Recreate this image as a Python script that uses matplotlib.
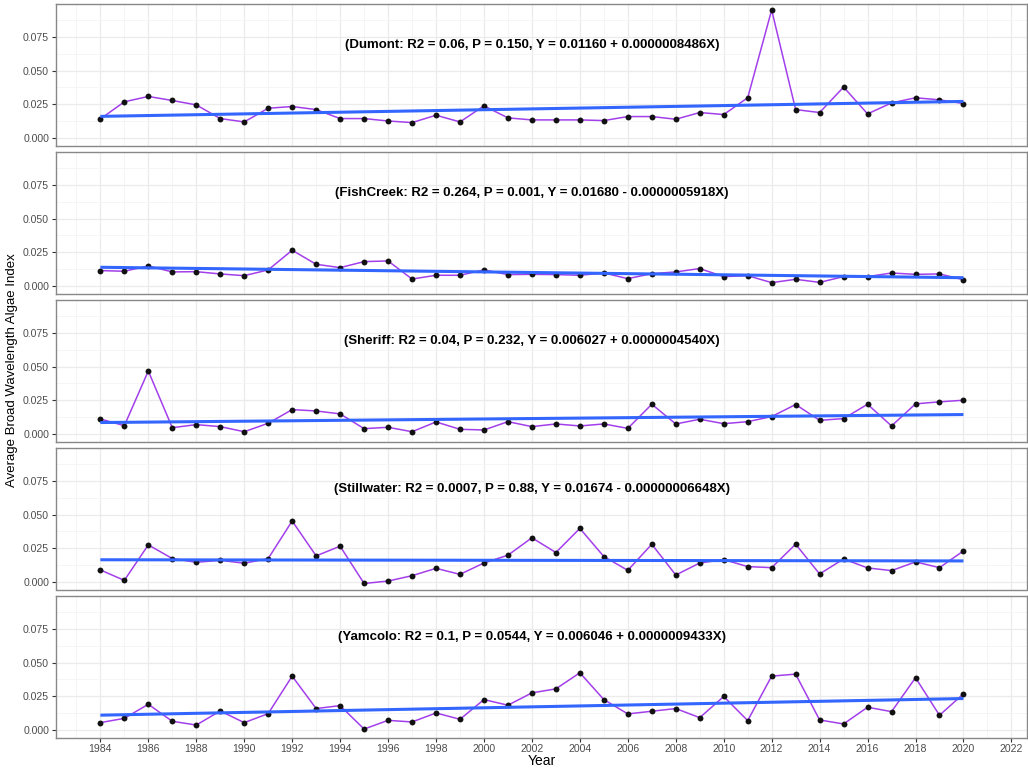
import numpy as np
import matplotlib
matplotlib.use("Agg")
import matplotlib.pyplot as plt

plt.rcParams['font.family'] = ['Liberation Sans', 'DejaVu Sans']

years = list(range(1984, 2021))

dumont = [0.0140, 0.0268, 0.0308, 0.0278, 0.0245, 0.0143, 0.0118, 0.0220, 0.0233, 0.0210,
          0.0143, 0.0143, 0.0125, 0.0113, 0.0168, 0.0118, 0.0238, 0.0148, 0.0133, 0.0133,
          0.0133, 0.0128, 0.0158, 0.0158, 0.0138, 0.0188, 0.0173, 0.0298, 0.0953, 0.0210,
          0.0188, 0.0378, 0.0178, 0.0260, 0.0298, 0.0283, 0.0255]
fishcreek = [0.0113, 0.0108, 0.0148, 0.0103, 0.0105, 0.0088, 0.0075, 0.0118, 0.0265, 0.0160,
             0.0135, 0.0180, 0.0185, 0.0050, 0.0078, 0.0078, 0.0118, 0.0083, 0.0085, 0.0083,
             0.0078, 0.0095, 0.0053, 0.0090, 0.0103, 0.0128, 0.0068, 0.0075, 0.0023, 0.0048,
             0.0025, 0.0068, 0.0068, 0.0095, 0.0085, 0.0088, 0.0045]
sheriff = [0.0110, 0.0060, 0.0468, 0.0045, 0.0068, 0.0053, 0.0015, 0.0078, 0.0180, 0.0170,
           0.0148, 0.0038, 0.0048, 0.0015, 0.0088, 0.0033, 0.0028, 0.0090, 0.0053, 0.0073,
           0.0058, 0.0073, 0.0040, 0.0220, 0.0073, 0.0108, 0.0075, 0.0090, 0.0128, 0.0218,
           0.0100, 0.0113, 0.0220, 0.0058, 0.0223, 0.0238, 0.0250]
stillwater = [0.0088, 0.0010, 0.0275, 0.0173, 0.0145, 0.0160, 0.0138, 0.0173, 0.0453, 0.0193,
              0.0265, -0.0013, 0.0005, 0.0045, 0.0100, 0.0055, 0.0140, 0.0198, 0.0328, 0.0218,
              0.0398, 0.0188, 0.0085, 0.0280, 0.0050, 0.0140, 0.0165, 0.0113, 0.0105, 0.0280,
              0.0058, 0.0170, 0.0103, 0.0083, 0.0148, 0.0105, 0.0230]
yamcolo = [0.0053, 0.0085, 0.0190, 0.0063, 0.0035, 0.0140, 0.0053, 0.0120, 0.0400, 0.0158,
           0.0180, 0.0005, 0.0070, 0.0058, 0.0125, 0.0078, 0.0225, 0.0183, 0.0275, 0.0305,
           0.0425, 0.0225, 0.0118, 0.0138, 0.0158, 0.0090, 0.0248, 0.0068, 0.0400, 0.0415,
           0.0073, 0.0043, 0.0168, 0.0135, 0.0388, 0.0108, 0.0268]

sites = ["Dumont", "FishCreek", "Sheriff", "Stillwater", "Yamcolo"]
series = [dumont, fishcreek, sheriff, stillwater, yamcolo]
r2 = ["0.06", "0.264", "0.04", "0.0007", "0.1"]
pval = ["0.150", "0.001", "0.232", "0.88", "0.0544"]
intercept = [0.01160, 0.01680, 0.006027, 0.01674, 0.006046]
slope = [0.0000008486, -0.0000005918, 0.0000004540, -0.00000006648, 0.0000009433]
intercept_txt = ["0.01160", "0.01680", "0.006027", "0.01674", "0.006046"]
slope_txt = ["+ 0.0000008486", "- 0.0000005918", "+ 0.0000004540",
             "- 0.00000006648", "+ 0.0000009433"]

W, H = 1028, 771
fig = plt.figure(figsize=(W / 100, H / 100), dpi=100)

left, right = 56, 1027
tops = [4, 152, 300, 448, 596]
ph = 141.5

# X in the fitted model is days since 1970-01-01
dates = np.array([f"{y}-01-01" for y in years], dtype='datetime64[D]')
days = (dates - np.datetime64('1970-01-01')).astype(float)

for i, (name, vals) in enumerate(zip(sites, series)):
    ax = fig.add_axes([left / W, 1 - (tops[i] + ph) / H, (right - left) / W, ph / H])
    ax.set_facecolor('white')
    ax.plot(years, vals, color='#A33FEA', lw=1.1, zorder=3)
    ax.scatter(years, vals, s=18, color='#111111', zorder=4, linewidths=0)
    fit = intercept[i] + slope[i] * days
    ax.plot(years, fit, color='#3366FF', lw=2.2, zorder=5, solid_capstyle='butt')
    ax.text(2002, 0.069,
            f"({name}: R2 = {r2[i]}, P = {pval[i]}, Y = {intercept_txt[i]} {slope_txt[i]}X)",
            ha='center', va='center', fontsize=9.5, fontweight='bold', zorder=6)

    ax.set_xlim(1982.15, 2022.65)
    ax.set_ylim(-0.0058, 0.0998)
    ax.set_xticks(range(1984, 2023, 2))
    ax.set_xticks(range(1983, 2023, 2), minor=True)
    ax.set_yticks([0, 0.025, 0.05, 0.075])
    ax.set_yticks([0.0125, 0.0375, 0.0625, 0.0875], minor=True)
    ax.set_yticklabels(["0.000", "0.025", "0.050", "0.075"])
    ax.grid(which='major', color='#EBEBEB', lw=0.9, zorder=0)
    ax.grid(which='minor', color='#F4F4F4', lw=0.6, zorder=0)
    ax.set_axisbelow(True)
    ax.tick_params(which='minor', length=0)
    ax.tick_params(which='major', length=3, width=0.8, color='#333333',
                   labelsize=7.6, labelcolor='#4D4D4D', pad=2)
    for sp in ax.spines.values():
        sp.set_color('#888888')
        sp.set_linewidth(1.0)
    if i < 4:
        ax.tick_params(axis='x', labelbottom=False, length=0)

fig.text(542 / W, 1 - 761 / H, "Year", ha='center', va='center', fontsize=10)
fig.text(12 / W, 1 - 370 / H, "Average Broad Wavelength Algae Index", rotation=90,
         ha='center', va='center', fontsize=9.5)

fig.savefig("out.png", dpi=100)
